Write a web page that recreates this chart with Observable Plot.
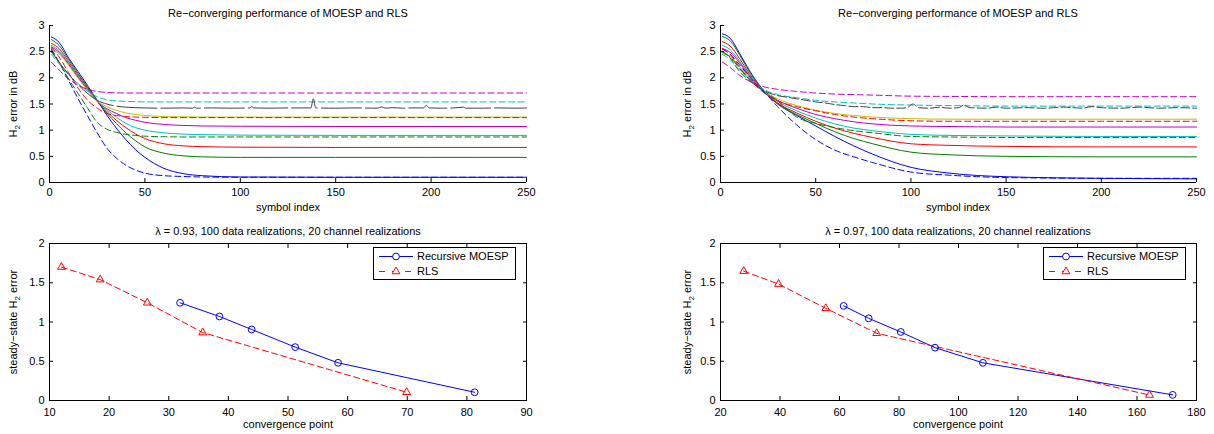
<!DOCTYPE html>
<html><head><meta charset="utf-8">
<script src="https://cdn.jsdelivr.net/npm/d3@7"></script>
<script src="https://cdn.jsdelivr.net/npm/@observablehq/plot@0.6"></script>
<style>
body{margin:0;background:#fff;}
#root{position:relative;width:1214px;height:434px;font-family:"Liberation Sans",Arial,Helvetica,sans-serif;font-size:11px;color:#000;overflow:hidden;background:#fff;}
.lbl{position:absolute;white-space:nowrap;line-height:1;transform:translate(-50%,-50%);}
.rot{transform:translate(-50%,-50%) rotate(-90deg);}
.pl{position:absolute;}
sub{font-size:8px;vertical-align:-3px;line-height:0;}
</style></head><body><div id="root"></div>
<script>
// ---------- Titles / labels ----------
const topTitle = "Re\u2212converging performance of MOESP and RLS";
const topXLabel = "symbol index";
const bottomXLabel = "convergence point";
const bottomTitles = ["\u03bb = 0.93, 100 data realizations, 20 channel realizations",
                      "\u03bb = 0.97, 100 data realizations, 20 channel realizations"];
const legendNames = ["Recursive MOESP", "RLS"];
const topYTicks = [0, 0.5, 1, 1.5, 2, 2.5, 3];
const topXTicks = [0, 50, 100, 150, 200, 250];
const botYTicks = [0, 0.5, 1, 1.5, 2];
const botXTicksA = [10, 20, 30, 40, 50, 60, 70, 80, 90];
const botXTicksB = [20, 40, 60, 80, 100, 120, 140, 160, 180];

// ---------- Top-left (lambda 0.93) curves ----------
const xA = [1,5,10,15,20,25,30,35,40,45,50,60,70,80,100,150,200,250];
const aMoespBlue    = [2.78,2.68,2.38,2.12,1.85,1.57,1.29,1.04,0.82,0.63,0.48,0.27,0.17,0.13,0.105,0.1,0.1,0.1];
const aMoespGreen   = [2.73,2.62,2.35,2.08,1.82,1.56,1.33,1.13,0.95,0.80,0.68,0.56,0.51,0.49,0.48,0.48,0.48,0.48];
const aMoespRed     = [2.66,2.56,2.31,2.05,1.80,1.55,1.36,1.19,1.05,0.93,0.84,0.74,0.70,0.685,0.675,0.67,0.67,0.67];
const aMoespCyan    = [2.62,2.52,2.28,2.03,1.78,1.55,1.39,1.25,1.13,1.05,1.00,0.95,0.925,0.915,0.905,0.9,0.9,0.9];
const aMoespMagenta = [2.59,2.49,2.26,2.01,1.77,1.55,1.41,1.32,1.24,1.19,1.15,1.11,1.09,1.08,1.075,1.07,1.07,1.07];
const aMoespYellow  = [2.56,2.46,2.24,1.99,1.76,1.56,1.45,1.38,1.33,1.30,1.28,1.26,1.255,1.25,1.25,1.25,1.25,1.25];
const aRlsMagenta   = [2.30,2.15,1.98,1.86,1.78,1.74,1.72,1.715,1.71,1.71,1.71,1.71,1.71,1.71,1.71,1.71,1.71,1.71];
const aRlsCyan      = [2.45,2.27,2.06,1.89,1.74,1.64,1.58,1.56,1.55,1.545,1.54,1.54,1.54,1.54,1.54,1.54,1.54,1.54];
const aRlsRed       = [2.58,2.40,2.10,1.80,1.57,1.42,1.32,1.28,1.26,1.25,1.245,1.24,1.24,1.24,1.24,1.24,1.24,1.24];
const aRlsGreen     = [2.52,2.30,1.98,1.70,1.42,1.15,1.02,0.96,0.92,0.90,0.885,0.875,0.87,0.87,0.87,0.87,0.87,0.87];
const aRlsBlue      = [2.55,2.30,1.95,1.60,1.27,0.95,0.66,0.47,0.33,0.24,0.18,0.13,0.115,0.105,0.1,0.1,0.1,0.1];
const aBlackX = [1,5,10,15,20,25,30,35,40,45,50,60,70,75,76,77,85,95,105,106,107,115,125,137,138.3,139.5,150,160,172,174,176,180,185,190,196,197.5,199,205,212,217,218,225,235,245,250];
const aBlackY = [2.5,2.3,2.07,1.87,1.7,1.57,1.5,1.46,1.44,1.43,1.425,1.42,1.425,1.42,1.44,1.42,1.425,1.42,1.425,1.45,1.425,1.42,1.425,1.425,1.6,1.425,1.42,1.425,1.42,1.445,1.42,1.43,1.42,1.425,1.425,1.475,1.425,1.42,1.425,1.44,1.42,1.42,1.425,1.42,1.425];

// ---------- Top-right (lambda 0.97) curves ----------
const xB = [1,5,10,15,20,25,30,40,50,60,70,80,100,120,150,200,250];
const bMoespBlue    = [2.84,2.76,2.47,2.15,1.88,1.66,1.50,1.28,1.08,0.88,0.70,0.54,0.29,0.18,0.11,0.08,0.07];
const bMoespGreen   = [2.79,2.71,2.44,2.13,1.87,1.66,1.51,1.30,1.13,0.97,0.84,0.74,0.58,0.53,0.50,0.49,0.49];
const bMoespRed     = [2.69,2.61,2.37,2.09,1.85,1.66,1.52,1.33,1.17,1.04,0.94,0.86,0.74,0.71,0.69,0.68,0.68];
const bMoespCyan    = [2.62,2.54,2.32,2.06,1.84,1.67,1.55,1.37,1.23,1.12,1.04,0.99,0.92,0.90,0.89,0.88,0.88];
const bMoespMagenta = [2.56,2.49,2.29,2.04,1.83,1.68,1.57,1.42,1.30,1.22,1.16,1.12,1.08,1.07,1.06,1.06,1.06];
const bMoespYellow  = [2.46,2.41,2.22,2.00,1.81,1.69,1.60,1.47,1.38,1.32,1.28,1.25,1.22,1.21,1.21,1.21,1.21];
const bRlsMagenta   = [2.30,2.20,2.05,1.94,1.86,1.81,1.78,1.74,1.71,1.69,1.68,1.67,1.65,1.645,1.64,1.64,1.64];
const bRlsCyan      = [2.45,2.35,2.15,1.98,1.84,1.74,1.68,1.62,1.57,1.54,1.52,1.50,1.48,1.47,1.46,1.46,1.46];
const bRlsRed       = [2.56,2.45,2.20,1.98,1.80,1.66,1.56,1.45,1.37,1.30,1.25,1.22,1.18,1.17,1.17,1.17,1.17];
const bRlsGreen     = [2.50,2.38,2.12,1.95,1.82,1.70,1.56,1.25,1.13,1.05,0.99,0.95,0.88,0.87,0.86,0.86,0.86];
const bRlsBlue      = [2.55,2.45,2.25,2.03,1.83,1.65,1.45,1.10,0.82,0.62,0.49,0.38,0.20,0.14,0.095,0.08,0.08];
const bBlackX = [1,5,10,15,20,25,30,35,40,45,50,55,60,65,70,75,80,85,90,95,98,101,104,110,115,120,125,128,131,140,145,150,160,170,180,190,195,200,210,220,230,240,250];
const bBlackY = [2.5,2.4,2.18,1.98,1.82,1.72,1.66,1.63,1.6,1.57,1.54,1.52,1.49,1.47,1.45,1.45,1.43,1.43,1.42,1.42,1.43,1.5,1.43,1.42,1.44,1.42,1.43,1.48,1.43,1.42,1.44,1.42,1.43,1.42,1.44,1.42,1.45,1.43,1.42,1.44,1.42,1.43,1.42];

// ---------- Bottom plots: steady-state error vs convergence point ----------
const convAMoespX = [31.9, 38.5, 43.9, 51.2, 58.4, 81.3];
const convAMoespY = [1.245, 1.07, 0.905, 0.68, 0.48, 0.105];
const convARlsX   = [12.0, 18.5, 26.4, 35.7, 69.9];
const convARlsY   = [1.70, 1.54, 1.245, 0.865, 0.105];
const convBMoespX = [61.4, 69.8, 80.6, 92.1, 108.2, 172.0];
const convBMoespY = [1.205, 1.047, 0.873, 0.673, 0.48, 0.072];
const convBRlsX   = [27.8, 39.5, 55.4, 72.5, 164.2];
const convBRlsY   = [1.648, 1.483, 1.174, 0.856, 0.07];

// ---------- colours ----------
const C = {blue:"#0000ff", green:"#008000", red:"#ff0000", cyan:"#00bfbf", magenta:"#bf00bf", yellow:"#bfbf00", black:"#404040"};
const DASH = "6,3.5";

const root = document.getElementById("root");
const FONT = "'Liberation Sans',Arial,Helvetica,sans-serif";

function rows(xs, ys){ return xs.map((x,i)=>({x, y: ys[i]})); }
function label(html, cx, cy, rot){
  const d = document.createElement("div");
  d.className = "lbl" + (rot ? " rot" : "");
  d.style.left = cx + "px"; d.style.top = cy + "px";
  d.innerHTML = html; root.appendChild(d);
}
function place(node, left, top){
  const w = document.createElement("div");
  w.className = "pl"; w.style.left = left + "px"; w.style.top = top + "px";
  w.appendChild(node); root.appendChild(w);
}
const styleObj = {fontFamily: FONT, fontSize: "11px", background: "none", overflow: "visible", color: "black"};

function topPlot(xs, solids, dashes, blackX, blackY, blackDash, mLeft, mRight){
  const marks = [];
  for (const [col, ys] of solids) marks.push(Plot.line(rows(xs, ys), {x:"x", y:"y", stroke: C[col], strokeWidth: 1, curve: "monotone-x"}));
  for (const [col, ys] of dashes) marks.push(Plot.line(rows(xs, ys), {x:"x", y:"y", stroke: C[col], strokeWidth: 1, strokeDasharray: DASH, curve: "monotone-x"}));
  marks.push(Plot.line(rows(blackX, blackY), {x:"x", y:"y", stroke: C.black, strokeWidth: 1, strokeDasharray: blackDash, curve: "monotone-x"}));
  marks.push(Plot.ruleX([0], {stroke: "black"}));
  marks.push(Plot.ruleY([0], {stroke: "black"}));
  marks.push(Plot.axisX({ticks: topXTicks, tickSize: -4, tickPadding: 10, label: null, tickFormat: d => String(d)}));
  marks.push(Plot.axisY({ticks: topYTicks, tickSize: -4, tickPadding: 9, label: null, tickFormat: d => String(d)}));
  return Plot.plot({
    width: 607, height: 217, marginLeft: mLeft, marginRight: mRight, marginTop: 25, marginBottom: 35,
    x: {domain: [0, 250]}, y: {domain: [0, 3]}, style: styleObj, marks
  });
}

function botPlot(mx, my, rx, ry, xDomain, xTicks, mLeft, mRight){
  return Plot.plot({
    width: 607, height: 217, marginLeft: mLeft, marginRight: mRight, marginTop: 26, marginBottom: 34,
    x: {domain: xDomain}, y: {domain: [0, 2]}, style: styleObj,
    marks: [
      Plot.line(rows(mx, my), {x:"x", y:"y", stroke: C.blue, strokeWidth: 1}),
      Plot.line(rows(rx, ry), {x:"x", y:"y", stroke: C.red, strokeWidth: 1, strokeDasharray: DASH}),
      Plot.dot(rows(mx, my), {x:"x", y:"y", r: 3.4, stroke: C.blue, fill: "none", strokeWidth: 1}),
      Plot.dot(rows(rx, ry), {x:"x", y:"y", r: 2.9, symbol: "triangle", stroke: C.red, fill: "none", strokeWidth: 1}),
      Plot.frame({stroke: "black"}),
      Plot.axisX({ticks: xTicks, tickSize: -4, tickPadding: 12, label: null, tickFormat: d => String(d)}),
      Plot.axisX({ticks: xTicks, anchor: "top", tickSize: -4, label: null, tickFormat: () => ""}),
      Plot.axisY({ticks: botYTicks, tickSize: -4, tickPadding: 9, label: null, tickFormat: d => String(d)}),
      Plot.axisY({ticks: botYTicks, anchor: "right", tickSize: -4, label: null, tickFormat: () => ""})
    ]
  });
}

function legend(left, top){
  const svg = d3.create("svg").attr("width", 144).attr("height", 34)
    .style("position","absolute").style("left", left+"px").style("top", top+"px").style("overflow","visible")
    .style("font-family", FONT).style("font-size", "11px");
  svg.append("rect").attr("x",0.5).attr("y",0.5).attr("width",142).attr("height",32).attr("fill","white").attr("stroke","black");
  const rowsY = [9.5, 24.5];
  svg.append("line").attr("x1",6).attr("x2",40).attr("y1",rowsY[0]).attr("y2",rowsY[0]).attr("stroke",C.blue);
  svg.append("circle").attr("cx",23).attr("cy",rowsY[0]).attr("r",3.4).attr("fill","white").attr("stroke",C.blue);
  svg.append("line").attr("x1",6).attr("x2",40).attr("y1",rowsY[1]).attr("y2",rowsY[1]).attr("stroke",C.red).attr("stroke-dasharray","6,7");
  svg.append("path").attr("d", d3.symbol(d3.symbolTriangle, Math.PI*2.9*2.9)()).attr("transform",`translate(23,${rowsY[1]})`).attr("fill","white").attr("stroke",C.red);
  svg.append("text").attr("x",44).attr("y",rowsY[0]).attr("dy","0.35em").text(legendNames[0]);
  svg.append("text").attr("x",44).attr("y",rowsY[1]).attr("dy","0.35em").text(legendNames[1]);
  root.appendChild(svg.node());
}

// Top-left
place(topPlot(xA,
  [["blue",aMoespBlue],["green",aMoespGreen],["red",aMoespRed],["cyan",aMoespCyan],["magenta",aMoespMagenta],["yellow",aMoespYellow]],
  [["blue",aRlsBlue],["green",aRlsGreen],["red",aRlsRed],["cyan",aRlsCyan],["magenta",aRlsMagenta]],
  aBlackX, aBlackY, "40,4", 49, 81), 0, 0);
// Top-right
place(topPlot(xB,
  [["blue",bMoespBlue],["green",bMoespGreen],["red",bMoespRed],["cyan",bMoespCyan],["magenta",bMoespMagenta],["yellow",bMoespYellow]],
  [["blue",bRlsBlue],["green",bRlsGreen],["red",bRlsRed],["cyan",bRlsCyan],["magenta",bRlsMagenta]],
  bBlackX, bBlackY, "9,3", 113, 18), 607, 0);
// Bottom-left
place(botPlot(convAMoespX, convAMoespY, convARlsX, convARlsY, [10, 90], botXTicksA, 49, 81), 0, 217);
// Bottom-right
place(botPlot(convBMoespX, convBMoespY, convBRlsX, convBRlsY, [20, 180], botXTicksB, 113, 18), 607, 217);

legend(372.5, 246.5);
legend(1043, 246.5);

// Text labels
label(topTitle, 288, 12.7); label(topTitle, 958, 12.7);
label(topXLabel, 288, 206.7); label(topXLabel, 958, 206.7);
label(bottomTitles[0], 288, 230.7); label(bottomTitles[1], 958, 230.7);
label(bottomXLabel, 288, 424); label(bottomXLabel, 958, 424);
label("H<sub>2</sub> error in dB", 13.3, 104, true); label("H<sub>2</sub> error in dB", 686.7, 104, true);
label("steady\u2212state H<sub>2</sub> error", 12.7, 322, true); label("steady\u2212state H<sub>2</sub> error", 686.5, 322, true);
</script></body></html>
